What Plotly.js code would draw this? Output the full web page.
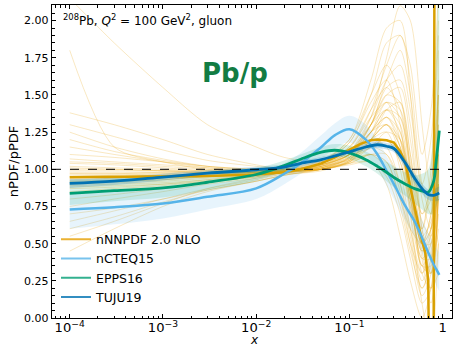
<!DOCTYPE html>
<html><head><meta charset="utf-8">
<script src="https://cdn.plot.ly/plotly-3.0.1.min.js"></script>
<style>html,body{margin:0;padding:0;background:#fff}#chart{width:457px;height:346px}</style>
</head><body><div id="chart"></div>
<script>
// ---------- data ----------
const xc = [1e-4,3e-4,1e-3,3e-3,1e-2,2e-2,3e-2,5e-2,7e-2,0.1,0.15,0.2,0.25,0.3,0.4,0.5,0.6,0.7,0.8,0.85,0.92];

const tujuCentral = [0.905,0.92,0.948,0.974,0.997,1.015,1.04,1.065,1.09,1.118,1.15,1.165,1.155,1.14,1.04,0.94,0.87,0.83,0.825,0.83,0.84];
const tujuLow     = [0.875,0.895,0.925,0.953,0.978,0.997,1.022,1.047,1.072,1.098,1.128,1.143,1.133,1.115,1.005,0.905,0.835,0.795,0.785,0.785,0.795];
const tujuHigh    = [0.935,0.945,0.97,0.993,1.017,1.033,1.058,1.083,1.108,1.138,1.172,1.187,1.177,1.165,1.075,0.975,0.905,0.865,0.865,0.875,0.885];

const eppsCentral = [0.838,0.856,0.875,0.913,0.965,1.025,1.068,1.115,1.128,1.11,1.065,1.02,0.98,0.945,0.9,0.87,0.855,0.845,0.92,1.05,1.26];
const eppsLow     = [0.76,0.785,0.81,0.86,0.925,0.99,1.035,1.08,1.09,1.07,1.02,0.97,0.92,0.88,0.82,0.77,0.73,0.7,0.7,0.75,0.8];
const eppsHigh    = [0.93,0.94,0.95,0.97,1.01,1.06,1.1,1.15,1.17,1.16,1.12,1.08,1.05,1.02,0.98,0.96,0.97,1.0,1.3,1.8,2.5];

const ncteqCentral = [0.73,0.745,0.77,0.815,0.872,0.97,1.04,1.15,1.23,1.27,1.2,1.1,0.99,0.9,0.75,0.65,0.54,0.44,0.36,0.33,0.29];
const ncteqLow     = [0.6,0.63,0.67,0.73,0.8,0.9,0.97,1.07,1.14,1.18,1.1,1.0,0.89,0.8,0.65,0.55,0.44,0.34,0.26,0.22,0.18];
const ncteqHigh    = [0.84,0.85,0.87,0.9,0.95,1.04,1.11,1.23,1.31,1.36,1.3,1.2,1.09,1.0,0.85,0.76,0.66,0.57,0.5,0.47,0.44];

const xn = [1e-4,3e-4,1e-3,3e-3,1e-2,2e-2,3e-2,5e-2,7e-2,0.1,0.13,0.17,0.2,0.25,0.3,0.35,0.4,0.45,0.5,0.55,0.6,0.65,0.7,0.72,0.76,0.8,0.82];
const nnpdfCentral = [0.946,0.948,0.95,0.955,0.965,0.98,1.0,1.04,1.08,1.13,1.17,1.195,1.2,1.195,1.18,1.12,1.04,0.88,0.74,0.62,0.52,0.44,0.25,-0.5,-0.8,-0.2,3.0];

const xr = [1e-4,3e-4,1e-3,3e-3,1e-2,2e-2,5e-2,0.1,0.17,0.25,0.35,0.45,0.6,0.75,0.9];
const nnpdfReplicas = [
 [0.95,0.95,0.96,0.97,0.98,1.0,1.05,1.15,1.35,1.45,1.2,0.8,0.4,0.5,1.0],
 [0.92,0.93,0.94,0.95,0.97,0.99,1.03,1.1,1.25,1.3,1.1,0.75,0.45,0.6,1.2],
 [1.02,1.01,1.0,0.99,0.99,1.0,1.05,1.2,1.5,1.7,1.5,1.0,0.3,0.2,0.8],
 [0.88,0.89,0.9,0.92,0.95,0.98,1.02,1.1,1.2,1.15,0.9,0.55,0.2,0.4,1.5],
 [1.05,1.04,1.02,1.0,0.99,1.0,1.03,1.1,1.3,1.6,1.8,1.5,0.8,0.6,0.9],
 [0.97,0.97,0.97,0.97,0.98,0.99,1.02,1.08,1.15,1.1,0.85,0.5,0.15,0.3,1.8],
 [0.9,0.91,0.92,0.94,0.96,0.98,1.0,1.05,1.1,1.05,0.8,0.6,0.5,0.7,1.1],
 [1.0,1.0,0.99,0.98,0.98,0.99,1.04,1.18,1.45,1.6,1.3,0.7,0.1,-0.2,0.5],
 [0.85,0.87,0.89,0.92,0.95,0.98,1.03,1.12,1.3,1.5,1.55,1.2,0.6,0.4,1.0],
 [1.1,1.08,1.05,1.02,1.0,0.99,1.0,1.05,1.15,1.25,1.2,0.9,0.35,0.3,1.3],
 [1.8,1.15,1.05,1.0,0.99,0.99,1.0,1.05,1.2,1.35,1.25,0.9,0.5,0.5,1.0],
 [2.15,1.85,1.55,1.3,1.15,1.08,1.05,1.1,1.25,1.4,1.3,0.9,0.5,0.6,1.2],
 [0.45,0.6,0.75,0.85,0.92,0.96,1.0,1.08,1.2,1.25,1.0,0.6,0.25,0.4,1.0],
 [0.6,0.68,0.78,0.86,0.92,0.96,1.0,1.06,1.15,1.2,1.05,0.75,0.45,0.55,0.9],
 [1.3,1.22,1.13,1.06,1.02,1.0,1.0,1.05,1.2,1.4,1.45,1.1,0.5,0.3,0.6],
 [1.25,1.15,1.07,1.02,0.99,0.98,1.0,1.08,1.3,1.55,1.6,1.3,0.7,0.8,1.5],
 [0.75,0.8,0.85,0.9,0.94,0.97,1.02,1.12,1.35,1.6,1.7,1.4,0.9,1.2,2.0],
 [0.93,0.94,0.95,0.96,0.97,0.98,1.0,1.03,1.05,0.95,0.7,0.4,0.1,0.2,0.9],
 [0.98,0.98,0.98,0.98,0.98,0.99,1.03,1.12,1.3,1.4,1.25,0.85,0.35,0.35,1.1],
 [0.96,0.96,0.96,0.97,0.98,1.0,1.06,1.2,1.6,1.95,2.0,1.5,0.6,0.3,0.7],
 [0.89,0.9,0.91,0.93,0.96,0.99,1.04,1.14,1.4,1.7,1.9,1.7,1.1,1.4,2.2],
 [1.04,1.03,1.01,0.99,0.98,0.98,1.0,1.04,1.1,1.1,0.9,0.6,0.3,0.45,1.2],
 [0.94,0.95,0.96,0.97,0.98,0.99,1.01,1.07,1.2,1.3,1.15,0.8,0.5,0.7,1.4],
 [1.15,1.1,1.05,1.01,0.98,0.97,0.99,1.06,1.25,1.45,1.4,1.0,0.45,0.2,0.3],
 [0.8,0.83,0.87,0.91,0.95,0.98,1.03,1.1,1.25,1.35,1.2,0.85,0.55,0.65,1.0],
 [0.99,0.99,0.99,0.99,0.99,1.0,1.03,1.1,1.35,1.75,2.1,2.0,1.3,0.8,0.5],
 [0.91,0.92,0.93,0.95,0.97,0.99,1.02,1.06,1.1,1.0,0.75,0.45,0.2,0.35,0.8],
 [1.01,1.0,0.99,0.98,0.97,0.98,1.01,1.1,1.3,1.45,1.35,1.0,0.6,1.0,1.9],
 [0.87,0.88,0.9,0.93,0.96,0.99,1.04,1.15,1.4,1.55,1.4,0.95,0.4,0.1,0.5],
 [0.95,0.96,0.97,0.98,0.99,1.0,1.02,1.07,1.15,1.2,1.05,0.7,0.35,0.5,1.3],
 [0.65,0.72,0.8,0.87,0.93,0.97,1.01,1.07,1.2,1.3,1.2,0.85,0.5,0.6,1.1],
 [1.2,1.12,1.06,1.02,1.0,0.99,1.0,1.04,1.1,1.05,0.8,0.5,0.3,0.6,1.6],
 [0.97,0.97,0.98,0.98,0.99,1.01,1.06,1.18,1.5,1.85,1.9,1.6,0.9,0.7,1.0],
 [0.92,0.92,0.93,0.95,0.97,0.99,1.01,1.04,1.05,0.9,0.55,0.25,0.0,0.2,0.8],
 [1.07,1.05,1.03,1.01,0.99,0.99,1.01,1.08,1.25,1.35,1.15,0.8,0.6,0.9,1.5],
 [0.55,0.65,0.77,0.87,0.94,0.98,1.02,1.1,1.25,1.4,1.35,1.05,0.65,0.55,0.9],
 [1.38,1.3,1.2,1.1,1.03,1.0,1.0,1.06,1.2,1.3,1.15,0.8,0.4,0.4,1.0],
 [0.7,0.74,0.8,0.86,0.92,0.96,1.01,1.09,1.3,1.5,1.45,1.1,0.7,0.9,1.6]
];

const legendNames = ['nNNPDF 2.0 NLO','nCTEQ15','EPPS16','TUJU19'];
const refLine = 1.0;

// ---------- styles ----------
const cLBlue='#56B4E9', cGreen='#009E73', cBlue='#0072B2';

const traces = [];
nnpdfReplicas.forEach(r => traces.push({x:xr, y:r, type:'scatter', mode:'lines',
  line:{color:'rgba(230,159,0,0.24)', width:1, shape:'spline', smoothing:0.8}, showlegend:false, hoverinfo:'skip'}));

function band(lo, hi, fill){
  traces.push({x:xc, y:lo, mode:'lines', line:{width:0, shape:'spline'}, showlegend:false, hoverinfo:'skip'});
  traces.push({x:xc, y:hi, mode:'lines', line:{width:0, shape:'spline'}, fill:'tonexty', fillcolor:fill, showlegend:false, hoverinfo:'skip'});
}
band(ncteqLow, ncteqHigh, 'rgba(86,180,233,0.14)');
band(eppsLow, eppsHigh, 'rgba(0,158,115,0.15)');
band(tujuLow, tujuHigh, 'rgba(0,114,178,0.2)');

traces.push({x:xn, y:nnpdfCentral, mode:'lines', line:{color:'#D9A000', width:2.5}, showlegend:false});
traces.push({x:xc, y:ncteqCentral, mode:'lines', line:{color:cLBlue, width:2.5, shape:'spline'}, showlegend:false});
traces.push({x:xc, y:eppsCentral, mode:'lines', line:{color:cGreen, width:2.8, shape:'spline'}, showlegend:false});
traces.push({x:xc, y:tujuCentral, mode:'lines', line:{color:cBlue, width:2.8, shape:'spline'}, showlegend:false});

// legend-only entries
const legColors=['rgba(230,159,0,0.8)','rgba(86,180,233,0.8)','rgba(0,158,115,0.8)','rgba(0,114,178,0.8)'];
legendNames.forEach((n,i)=>traces.push({x:[null], y:[null], mode:'lines', name:n, line:{color:legColors[i], width:2}, showlegend:true}));

const fam = 'DejaVu Sans, sans-serif';
const layout = {
  width:457, height:346,
  margin:{l:52, r:5, t:5, b:28},
  paper_bgcolor:'#fff', plot_bgcolor:'#fff',
  font:{family:fam, size:11, color:'#000'},
  showlegend:true,
  legend:{x:0.01, y:0.02, xanchor:'left', yanchor:'bottom', traceorder:'normal', bgcolor:'rgba(0,0,0,0)', font:{size:12.5, family:fam}, tracegroupgap:0, itemwidth:30},
  xaxis:{type:'log', range:[-4.19, 0.1], dtick:1, exponentformat:'power', showexponent:'all',
    showline:true, linecolor:'#000', linewidth:1.2, mirror:'allticks', ticks:'inside', ticklen:4, tickcolor:'#000',
    showgrid:false, zeroline:false, tickfont:{size:10.5}, ticklabelstandoff:-2,
    minor:{ticks:'inside', ticklen:2.5, tickcolor:'#000', dtick:'D1', showgrid:false}},
  yaxis:{range:[0, 2.105], dtick:0.25, tick0:0, tickformat:'.2f',
    showline:true, linecolor:'#000', linewidth:1.2, mirror:'allticks', ticks:'inside', ticklen:4, tickcolor:'#000',
    showgrid:false, zeroline:false, tickfont:{size:11},
    minor:{ticks:'inside', ticklen:2.5, tickcolor:'#000', dtick:0.05, showgrid:false},
    title:{text:'nPDF/pPDF', font:{size:13}, standoff:2}},
  shapes:[{type:'line', xref:'paper', x0:0, x1:1, yref:'y', y0:refLine, y1:refLine, line:{color:'#000', width:1, dash:'dash'}}],
  annotations:[
    {xref:'paper', yref:'paper', x:0.022, y:0.952, xanchor:'left', yanchor:'middle', showarrow:false,
     text:'<sup>208</sup>Pb, <i>Q</i><sup>2</sup> = 100 GeV<sup>2</sup>, gluon', font:{size:12}},
    {xref:'paper', yref:'paper', x:0.4575, y:0.783, xanchor:'center', yanchor:'middle', showarrow:false,
     text:'<b>Pb/p</b>', font:{size:26, color:'#127C43', family:fam}},
    {xref:'paper', yref:'paper', x:0.505, y:-0.069, xanchor:'center', yanchor:'middle', showarrow:false,
     text:'<i>x</i>', font:{size:12}}
  ]
};
Plotly.newPlot('chart', traces, layout, {displayModeBar:false, staticPlot:true});
</script></body></html>
